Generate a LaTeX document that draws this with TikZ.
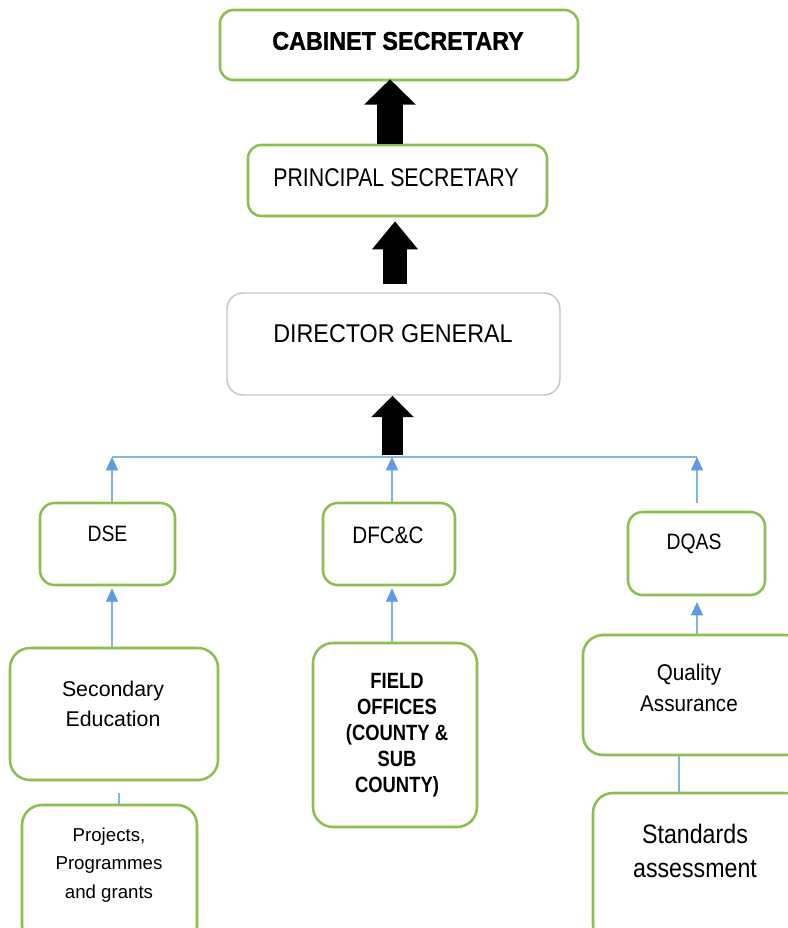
\documentclass[tikz,border=0pt]{standalone}
\usepackage{fontspec}
\usepackage{graphicx}
\setmainfont{Liberation Sans}
\newfontfamily\heavyfont{Liberation Sans Bold}[FakeBold=1.2]
\usetikzlibrary{arrows.meta,fit,calc}
\definecolor{boxgreen}{RGB}{140,190,80}
\definecolor{dggray}{RGB}{205,195,200}
\definecolor{conblue}{RGB}{130,180,230}
\definecolor{tipblue}{RGB}{95,155,228}
\newcommand{\vs}[2]{\scalebox{1}[#1]{#2}}
\begin{document}
\begin{tikzpicture}[x=0.75pt,y=-0.75pt,
  gbox/.style={draw=boxgreen, line width=1.9pt, rounded corners=#1, inner sep=0pt, fill=white},
  gbox/.default=10pt,
  graybox/.style={draw=dggray, line width=1.1pt, rounded corners=12pt, inner sep=0pt, fill=white},
  lbl/.style={inner sep=0pt, align=center, text=black},
  conn/.style={draw=conblue, line width=0.9pt},
  connarr/.style={conn, -{Triangle[width=9pt,length=10pt,fill=tipblue,color=tipblue]}},
  bigarr/.style n args={3}{draw=black, line width=#1, -{Triangle[width=#2,length=#3]}}
]
\useasboundingbox (0,0) rectangle (788,928);
\fill[white] (0,0) rectangle (788,928);
\clip (0,0) rectangle (788,928);

% boxes
\node[gbox, fit={(220,10) (578,80)}] (cs) {};
\node[gbox, fit={(248,145) (547,216)}] (ps) {};
\node[graybox, fit={(227,293) (560,395)}] (dg) {};
\node[gbox=11pt, fit={(40,503) (175,585)}] (dse) {};
\node[gbox=11pt, fit={(323,503) (455,585)}] (dfc) {};
\node[gbox=11pt, fit={(628,512) (765,595)}] (dq) {};
\node[gbox=15pt, fit={(10,648) (218,780)}] (se) {};
\node[gbox=15pt, fit={(22,805) (197,945)}] (proj) {};
\node[gbox=15pt, fit={(313,643) (477,827)}] (fo) {};
\node[gbox=15pt, fit={(583,635) (805,755)}] (qa) {};
\node[gbox=15pt, fit={(593,793) (805,945)}] (sa) {};

% texts
\node[lbl, font=\fontsize{17.5}{21}\heavyfont] (cst) at (398,41) {\vs{1.1}{CABINET SECRETARY}};
\node[lbl, font=\fontsize{16}{19}\selectfont] (pst) at (396,178) {\vs{1.2}{PRINCIPAL SECRETARY}};
\node[lbl, font=\fontsize{17.5}{21}\selectfont] (dgt) at (393,334) {\vs{1.1}{DIRECTOR GENERAL}};
\node[lbl, font=\fontsize{14.5}{18}\selectfont] (dset) at (107.5,534) {\vs{1.15}{DSE}};
\node[lbl, font=\fontsize{15.5}{18}\selectfont] (dfct) at (388,535) {\vs{1.15}{DFC\&C}};
\node[lbl, font=\fontsize{14.5}{18}\selectfont] (dqt) at (694,544) {\vs{1.15}{DQAS}};
\node[lbl, font=\fontsize{16}{23}\selectfont] (set) at (113,704) {Secondary\\Education};
\node[lbl, font=\fontsize{14}{21.5}\selectfont] (projt) at (109,865) {Projects,\\Programmes\\and grants};
\node[lbl, font=\fontsize{13.8}{19.5}\selectfont\bfseries] (fot) at (397,735)
  {\vs{1.2}{FIELD}\\\vs{1.2}{OFFICES}\\\vs{1.2}{(COUNTY \&}\\\vs{1.2}{SUB}\\\vs{1.2}{COUNTY)}};
\node[lbl, font=\fontsize{15.5}{23}\selectfont] (qat) at (689,688) {\vs{1.1}{Quality}\\\vs{1.1}{Assurance}};
\node[lbl, font=\fontsize{17.4}{26}\selectfont] (sat) at (695,851) {\vs{1.15}{Standards}\\\vs{1.15}{assessment}};

% coordinates for blue connector columns
\coordinate (h1) at (112,457);
\coordinate (h2) at (392,457);
\coordinate (h3) at (697,457);
\coordinate (dqup) at (697,503);
\coordinate (dqdn) at (697,602);
\coordinate (pjtop) at (119,793);
\coordinate (c1) at (390,0);
\coordinate (c2) at (395,0);
\coordinate (c3) at (392.5,455);
\coordinate (c5) at (679,0);

% black block arrows
\draw[bigarr={19.5pt}{37.5pt}{19pt}, shorten >=-1.5pt] (c1 |- ps.north) -- (c1 |- cs.south);
\draw[bigarr={18pt}{33pt}{21pt}, shorten >=3pt, shorten <=6pt] (c2 |- dg.north) -- (c2 |- ps.south);
\draw[bigarr={15.75pt}{31pt}{16pt}] (c3) -- (c3 |- dg.south);

% blue connectors
\draw[conn] (h1) -- (h3);
\draw[connarr] (h1 |- dse.north) -- (h1);
\draw[connarr] (h2 |- dfc.north) -- (h2);
\draw[connarr] (dqup) -- (h3);
\draw[connarr] (h1 |- se.north) -- ([yshift=-1.5pt]h1 |- dse.south);
\draw[connarr] (h2 |- fo.north) -- ([yshift=-1.5pt]h2 |- dfc.south);
\draw[connarr] (h3 |- qa.north) -- (dqdn);
\draw[conn] (pjtop) -- (pjtop |- proj.north);
\draw[conn] (c5 |- qa.south) -- (c5 |- sa.north);
\end{tikzpicture}
\end{document}
